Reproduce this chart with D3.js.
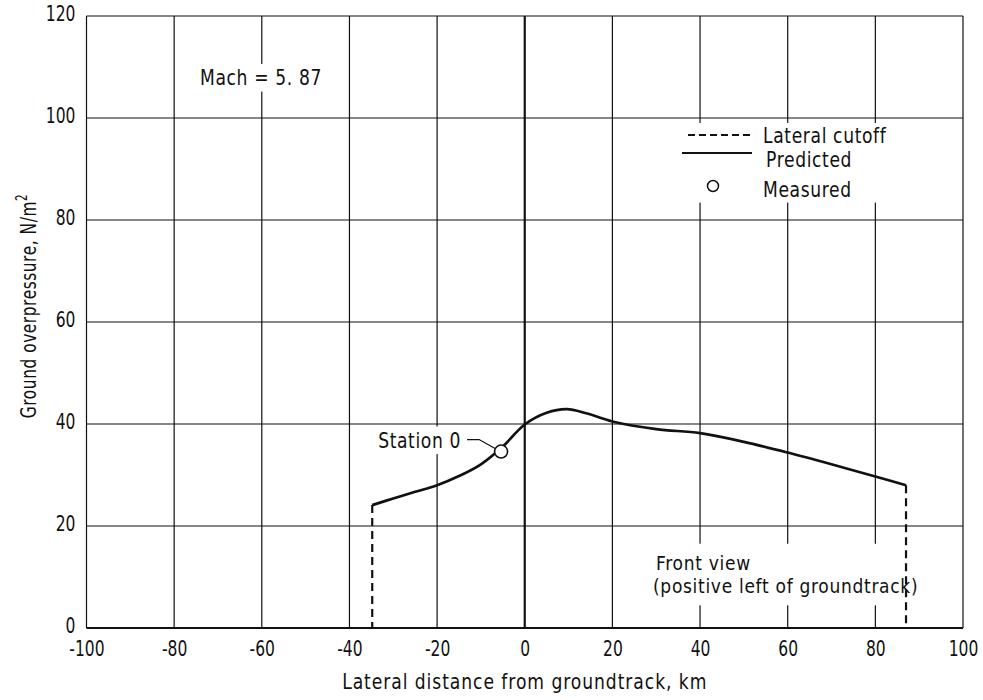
<!DOCTYPE html>
<html>
<head>
<meta charset="utf-8">
<script src="https://cdn.jsdelivr.net/npm/d3@7"></script>
<style>
  body { margin: 0; background: #fff; }
  svg { display: block; }
  svg text { font-family: "DejaVu Sans", sans-serif; fill: #111; }
</style>
</head>
<body>
<svg id="chart" width="983" height="700"></svg>
<script>
// Predicted ground overpressure vs lateral distance, Mach 5.87
const lateralKm   = [-34.8, -30, -25, -20, -15, -10, -5, 0, 5, 9.6, 14, 20, 30, 40, 50, 60, 70, 80, 87];
const predictedPa = [24.1, 25.4, 26.7, 28.0, 29.8, 32.1, 35.6, 39.9, 42.2, 42.9, 42.1, 40.5, 39.0, 38.2, 36.5, 34.4, 32.1, 29.7, 28.0];

const measuredKm = [-5.4];
const measuredPa = [34.6];

const cutoffKm = [-34.8, 87];
const cutoffPa = [24.1, 28.0];

const xTicks = [-100, -80, -60, -40, -20, 0, 20, 40, 60, 80, 100];
const yTicks = [0, 20, 40, 60, 80, 100, 120];

const svg = d3.select("#chart");
const x = d3.scaleLinear().domain([-100, 100]).range([86.5, 963]);
const y = d3.scaleLinear().domain([0, 120]).range([628, 16]);

const ink = "#111";
const fs = 22;

// narrow the lettering horizontally about its anchor, like condensed drafting type
function squeeze(sel, k) {
  sel.each(function () {
    const ax = +this.getAttribute("x") || 0;
    const prev = this.getAttribute("transform") || "";
    this.setAttribute("transform", `${prev} translate(${ax * (1 - k)},0) scale(${k},1)`.trim());
  });
}

// grid
const grid = svg.append("g");
grid.selectAll("line.v").data(xTicks).join("line")
  .attr("x1", d => x(d)).attr("x2", d => x(d))
  .attr("y1", y(0)).attr("y2", y(120))
  .attr("stroke", ink).attr("stroke-width", d => d === 0 ? 2.2 : 1.2);
grid.selectAll("line.h").data(yTicks).join("line")
  .attr("x1", x(-100)).attr("x2", x(100))
  .attr("y1", d => y(d)).attr("y2", d => y(d))
  .attr("stroke", ink).attr("stroke-width", d => d === 0 ? 1.8 : 1.2);

// white patches that interrupt the grid behind lettering
const blanks = svg.append("g");
function blankBehind(nodes, padX, padY) {
  const o = svg.node().getBoundingClientRect();
  let x0 = Infinity, y0 = Infinity, x1 = -Infinity, y1 = -Infinity;
  nodes.forEach(n => {
    const b = n.getBoundingClientRect();
    x0 = Math.min(x0, b.left - o.left); y0 = Math.min(y0, b.top - o.top);
    x1 = Math.max(x1, b.right - o.left); y1 = Math.max(y1, b.bottom - o.top);
  });
  blanks.append("rect").attr("x", x0 - padX).attr("y", y0 - padY)
    .attr("width", x1 - x0 + 2 * padX).attr("height", y1 - y0 + 2 * padY).attr("fill", "#fff");
}

// axes (labels only)
const fmt = d => String(d);
const xAxis = svg.append("g").attr("transform", `translate(0,${y(0)})`)
  .call(d3.axisBottom(x).tickValues(xTicks).tickSize(0).tickPadding(16).tickFormat(fmt));
const yAxis = svg.append("g").attr("transform", `translate(${x(-100)},0)`)
  .call(d3.axisLeft(y).tickValues(yTicks).tickSize(0).tickPadding(11).tickFormat(fmt));
[xAxis, yAxis].forEach(a => {
  a.select(".domain").remove();
  a.attr("font-family", null).attr("font-size", null);
  a.selectAll("text").attr("font-size", 21).attr("fill", ink);
  squeeze(a.selectAll("text"), 0.74);
});
yAxis.selectAll("text").attr("dy", "0.2em");
xAxis.selectAll("text").attr("dy", "0.55em");

// predicted curve
const line = d3.line().x((d, i) => x(lateralKm[i])).y((d, i) => y(predictedPa[i])).curve(d3.curveCatmullRom.alpha(0.5));
svg.append("path").datum(predictedPa).attr("d", line)
  .attr("fill", "none").attr("stroke", ink).attr("stroke-width", 2.7);

// lateral cutoff lines
svg.selectAll("line.cut").data(cutoffKm).join("line")
  .attr("x1", d => x(d)).attr("x2", d => x(d))
  .attr("y1", (d, i) => y(cutoffPa[i])).attr("y2", y(0))
  .attr("stroke", ink).attr("stroke-width", 2.2).attr("stroke-dasharray", "8,5");

// measured point
svg.selectAll("circle.m").data(measuredKm).join("circle")
  .attr("cx", d => x(d)).attr("cy", (d, i) => y(measuredPa[i])).attr("r", 6.5)
  .attr("fill", "#fff").attr("stroke", ink).attr("stroke-width", 1.6);

const labels = svg.append("g");

// station label with leader
const sx = x(measuredKm[0]), sy = y(measuredPa[0]);
svg.append("path")
  .attr("d", `M${sx - 34},${sy - 12} L${sx - 22},${sy - 12} L${sx - 6},${sy - 3}`)
  .attr("fill", "none").attr("stroke", ink).attr("stroke-width", 1.3);
const station = labels.append("text").attr("x", sx - 40).attr("y", sy - 4).attr("text-anchor", "end")
  .attr("font-size", fs).attr("letter-spacing", 0.8).text("Station  0");

// annotations
const mach = labels.append("text").attr("x", 200).attr("y", 85).attr("font-size", fs).attr("letter-spacing", 0.8).text("Mach  =  5. 87");

// legend
const lg = svg.append("g");
lg.append("line").attr("x1", 688).attr("x2", 752).attr("y1", 135).attr("y2", 135)
  .attr("stroke", ink).attr("stroke-width", 1.8).attr("stroke-dasharray", "7,4");
lg.append("line").attr("x1", 682).attr("x2", 752).attr("y1", 153).attr("y2", 153)
  .attr("stroke", ink).attr("stroke-width", 2.2);
lg.append("circle").attr("cx", 713).attr("cy", 186).attr("r", 5.5)
  .attr("fill", "#fff").attr("stroke", ink).attr("stroke-width", 1.5);
const legendText = ["Lateral cutoff", "Predicted", "Measured"];
const legendLabels = labels.selectAll("text.legend").data(legendText).join("text")
  .attr("class", "legend")
  .attr("x", (d, i) => i === 1 ? 766 : 763).attr("y", (d, i) => [143, 167, 197][i])
  .attr("font-size", fs).attr("letter-spacing", 0.8).text(d => d);

// axis titles
labels.append("text").attr("x", x(0)).attr("y", 689).attr("text-anchor", "middle")
  .attr("font-size", fs).attr("letter-spacing", 1.2).text("Lateral distance from groundtrack,  km");
squeeze(labels.selectAll("text"), 0.78);

// view note, two tight lines
const note = svg.append("g");
const front1 = note.append("text").attr("x", 656).attr("y", 570).attr("font-size", 20).attr("letter-spacing", 0.8).text("Front view");
const front2 = note.append("text").attr("x", 653).attr("y", 593).attr("font-size", 20).attr("letter-spacing", 0.8).text("(positive left of groundtrack)");
squeeze(note.selectAll("text"), 0.855);

const yt = svg.append("text").attr("transform", "translate(36,306) rotate(-90)")
  .attr("text-anchor", "middle").attr("font-size", fs).attr("letter-spacing", 0.8);
yt.append("tspan").text("Ground overpressure,  N/m");
yt.append("tspan").attr("font-size", 15).attr("dy", -9).text("2");
squeeze(yt, 0.7);

// clear the grid behind the in-plot lettering
blankBehind([mach.node()], 5, 1);
blankBehind([station.node()], 4, 1);
blankBehind([lg.node(), ...legendLabels.nodes()], 4, 0);
blankBehind([front1.node(), front2.node()], 6, 8);
</script>
</body>
</html>
